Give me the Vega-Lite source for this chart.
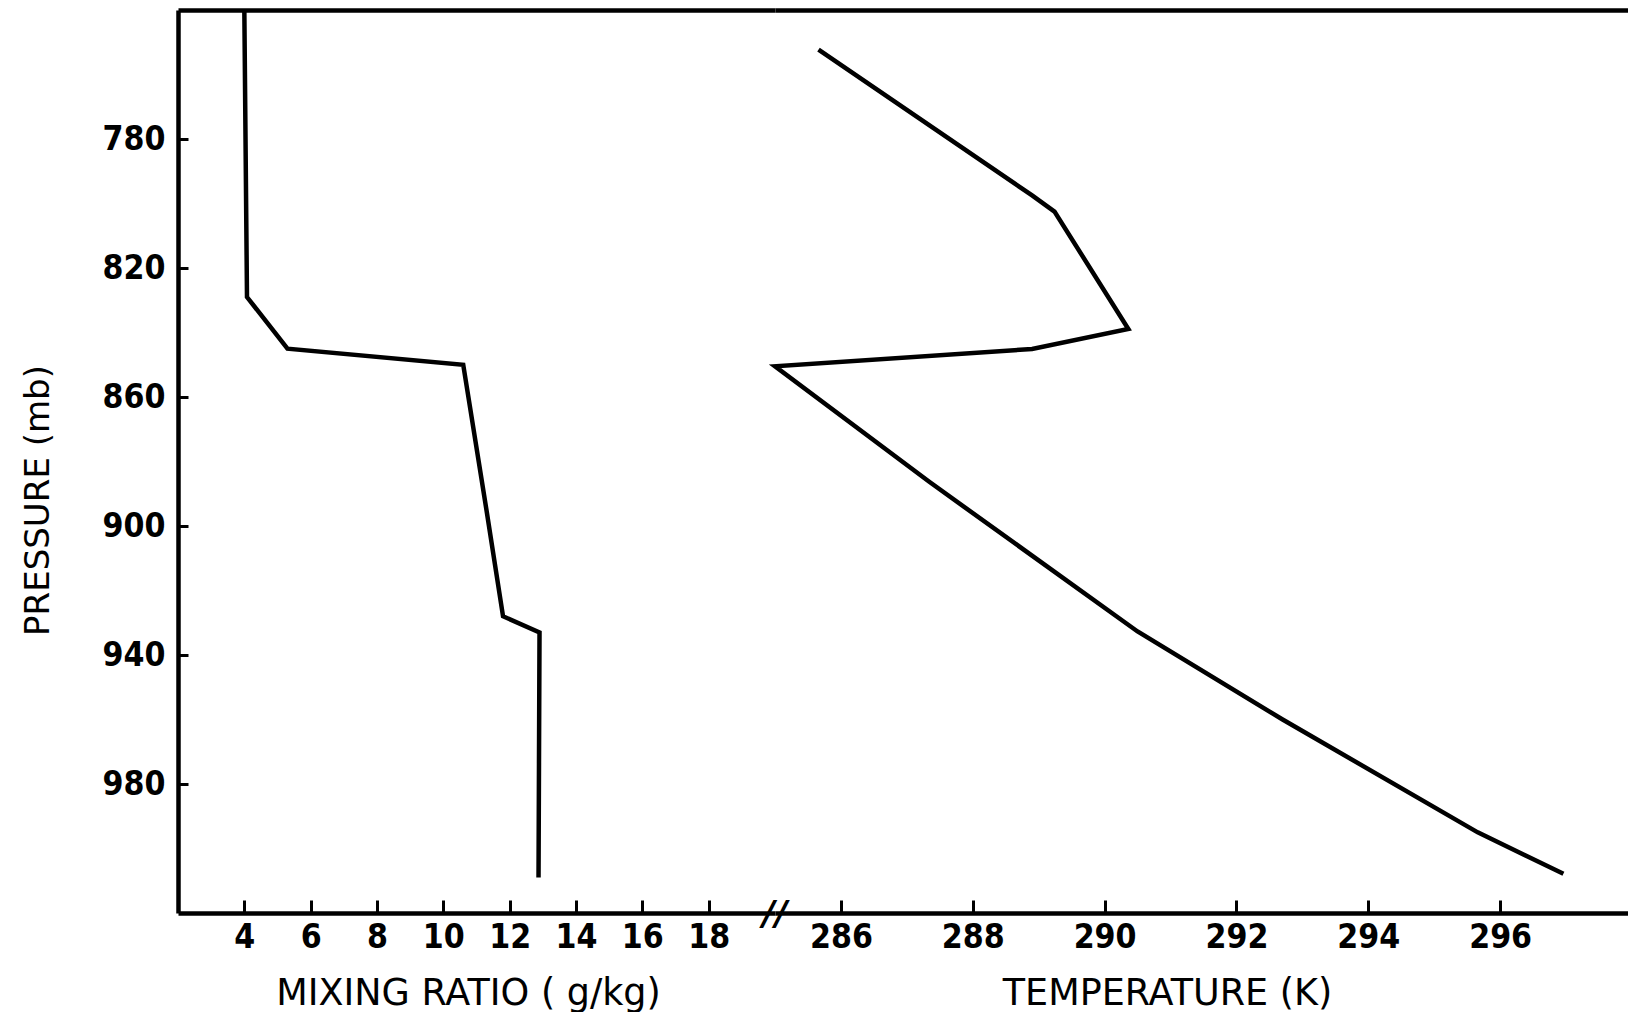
{
  "$schema": "https://vega.github.io/schema/vega-lite/v6.json",
  "background": "white",
  "padding": {"left": 21, "top": 1, "right": 0, "bottom": 0},
  "bounds": "flush",
  "config": {
    "view": {"stroke": null},
    "font": "DejaVu Sans",
    "concat": {"spacing": 0},
    "axis": {
      "grid": false,
      "domainColor": "black",
      "domainWidth": 4.5,
      "tickColor": "black",
      "tickWidth": 3,
      "labelColor": "black",
      "titleColor": "black",
      "labelFont": "DejaVu Sans Condensed, DejaVu Sans",
      "titleFont": "DejaVu Sans",
      "labelFontSize": 33.5,
      "labelFontWeight": "bold",
      "titleFontSize": 36.5,
      "titleFontWeight": "normal"
    }
  },
  "datasets": {
    "mr": [
      {"i": 0, "mixing_ratio": 4.0, "pressure": 740},
      {"i": 1, "mixing_ratio": 4.08, "pressure": 829},
      {"i": 2, "mixing_ratio": 5.3, "pressure": 845},
      {"i": 3, "mixing_ratio": 10.6, "pressure": 850},
      {"i": 4, "mixing_ratio": 11.3, "pressure": 895},
      {"i": 5, "mixing_ratio": 11.8, "pressure": 928},
      {"i": 6, "mixing_ratio": 12.9, "pressure": 933},
      {"i": 7, "mixing_ratio": 12.87, "pressure": 1009}
    ],
    "temp": [
      {"i": 0, "temperature": 285.66, "pressure": 752.3},
      {"i": 1, "temperature": 288.9, "pressure": 797.5},
      {"i": 2, "temperature": 289.24, "pressure": 802.5},
      {"i": 3, "temperature": 290.36, "pressure": 838.9},
      {"i": 4, "temperature": 288.9, "pressure": 845.1},
      {"i": 5, "temperature": 285.0, "pressure": 850.5},
      {"i": 6, "temperature": 287.34, "pressure": 886.3},
      {"i": 7, "temperature": 290.5, "pressure": 932.7},
      {"i": 8, "temperature": 292.7, "pressure": 960},
      {"i": 9, "temperature": 295.66, "pressure": 995},
      {"i": 10, "temperature": 296.96, "pressure": 1007.8}
    ],
    "brk": [
      {"temperature": 285, "pressure": 1020, "label": "//"}
    ]
  },
  "hconcat": [
    {
      "width": 597,
      "height": 903,
      "resolve": {"axis": {"x": "independent"}},
      "encoding": {
        "y": {
          "field": "pressure", "type": "quantitative",
          "scale": {"domain": [740, 1020], "reverse": true, "nice": false, "zero": false},
          "axis": {
            "values": [780, 820, 860, 900, 940, 980],
            "tickSize": -10,
            "labelPadding": 23,
            "title": "PRESSURE (mb)",
            "titleFontSize": 34,
            "titleBaseline": "alphabetic",
            "titleX": -130,
            "titleY": 490
          }
        }
      },
      "layer": [
        {
          "data": {"name": "mr"},
          "mark": {"type": "line", "color": "black", "strokeWidth": 4.5},
          "encoding": {
            "x": {
              "field": "mixing_ratio", "type": "quantitative",
              "scale": {"domain": [2, 20], "nice": false, "zero": false},
              "axis": {
                "orient": "bottom",
                "values": [4, 6, 8, 10, 12, 14, 16, 18],
                "tickSize": -13,
                "labelBaseline": "alphabetic",
                "labelPadding": 47.5,
                "title": "MIXING RATIO ( g/kg)",
                "titleBaseline": "alphabetic",
                "titleX": 290,
                "titleY": 91
              }
            },
            "order": {"field": "i", "type": "quantitative"}
          }
        },
        {
          "data": {"name": "mr"},
          "mark": {"type": "line", "opacity": 0},
          "encoding": {
            "x": {
              "field": "mixing_ratio", "type": "quantitative",
              "axis": {"orient": "top", "labels": false, "ticks": false, "title": null}
            },
            "order": {"field": "i", "type": "quantitative"}
          }
        }
      ]
    },
    {
      "width": 853,
      "height": 903,
      "resolve": {"axis": {"x": "independent"}},
      "encoding": {
        "y": {
          "field": "pressure", "type": "quantitative",
          "scale": {"domain": [740, 1020], "reverse": true, "nice": false, "zero": false},
          "axis": null
        }
      },
      "layer": [
        {
          "data": {"name": "temp"},
          "mark": {"type": "line", "color": "black", "strokeWidth": 4.5},
          "encoding": {
            "x": {
              "field": "temperature", "type": "quantitative",
              "scale": {"domain": [285, 297.94], "nice": false, "zero": false},
              "axis": {
                "orient": "bottom",
                "values": [286, 288, 290, 292, 294, 296],
                "format": "d",
                "tickSize": -13,
                "labelBaseline": "alphabetic",
                "labelPadding": 47.5,
                "title": "TEMPERATURE (K)",
                "titleBaseline": "alphabetic",
                "titleX": 392,
                "titleY": 91
              }
            },
            "order": {"field": "i", "type": "quantitative"}
          }
        },
        {
          "data": {"name": "temp"},
          "mark": {"type": "line", "opacity": 0},
          "encoding": {
            "x": {
              "field": "temperature", "type": "quantitative",
              "axis": {"orient": "top", "labels": false, "ticks": false, "title": null}
            },
            "order": {"field": "i", "type": "quantitative"}
          }
        },
        {
          "data": {"name": "brk"},
          "mark": {"type": "text", "font": "DejaVu Sans", "fontSize": 34, "fontWeight": "bold", "fontStyle": "italic", "align": "center", "baseline": "middle", "dy": 2, "color": "black"},
          "encoding": {
            "x": {"field": "temperature", "type": "quantitative", "axis": null},
            "text": {"field": "label"}
          }
        }
      ]
    }
  ]
}
